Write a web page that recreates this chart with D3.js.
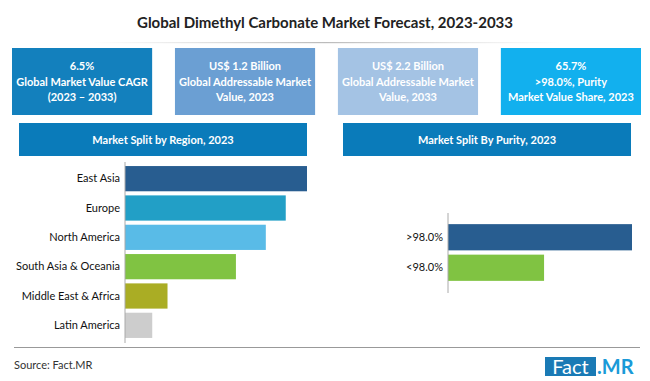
<!DOCTYPE html>
<html lang="en">
<head>
<meta charset="UTF-8">
<title>Dimethyl Carbonate Market</title>
<script src="https://d3js.org/d3.v7.min.js"></script>
<style>
  body { margin: 0; background: #fff; }
  text { font-family: Lato, "Noto Sans", sans-serif; }
</style>
</head>
<body>
<div id="figure" style="width:650px;height:381px"></div>
<script>
// KPI cards across the top
const kpiLines = [
    ["6.5%", "Global Market Value CAGR", "(2023 \u2013 2033)"],
    ["US$ 1.2 Billion", "Global Addressable Market", "Value, 2023"],
    ["US$ 2.2 Billion", "Global Addressable Market", "Value, 2033"],
    ["65.7%", ">98.0%, Purity", "Market Value Share, 2023"]
];
const kpiColors = ["#1380bd", "#6b9fd3", "#a4c3e4", "#12b0ee"];

// region split (share %)
const regions = ["East Asia", "Europe", "North America", "South Asia & Oceania", "Middle East & Africa", "Latin America"];
const regionShare = [27.4, 24.2, 21.2, 16.7, 6.4, 4.1];
const regionColors = ["#285d90", "#229fc6", "#59bbe7", "#80c342", "#aaad24", "#cdcdcd"];

// purity split
const purity = [">98.0%", "<98.0%"];
const purityShare = [65.7, 34.3];
const purityColors = ["#285d90", "#80c342"];

const W = 650, H = 381;
const svg = d3.select("#figure").append("svg")
    .attr("width", W).attr("height", H);

svg.append("text")
    .attr("x", 325).attr("y", 28)
    .attr("text-anchor", "middle")
    .attr("font-size", 15).attr("font-weight", "bold")
    .attr("fill", "#222")
    .text("Global Dimethyl Carbonate Market Forecast, 2023-2033");

const grad = svg.append("defs").append("linearGradient").attr("id", "fade");
grad.append("stop").attr("offset", "0%").attr("stop-color", "#ccc").attr("stop-opacity", 0);
grad.append("stop").attr("offset", "50%").attr("stop-color", "#bbb");
grad.append("stop").attr("offset", "100%").attr("stop-color", "#ccc").attr("stop-opacity", 0);
svg.append("rect").attr("x", 90).attr("y", 42).attr("width", 470).attr("height", 1.2)
    .attr("fill", "url(#fade)");

// cards
const cardX = d3.scaleBand().domain(d3.range(4)).range([12, 641]).paddingInner(0.14);
const cards = svg.selectAll("g.card").data(kpiLines).join("g")
    .attr("class", "card")
    .attr("transform", (d, i) => `translate(${cardX(i)},48)`);
cards.append("rect")
    .attr("width", cardX.bandwidth()).attr("height", 67)
    .attr("fill", (d, i) => kpiColors[i]);
cards.each(function(d) {
    const g = d3.select(this);
    d.forEach((line, k) => {
        g.append("text")
            .attr("x", cardX.bandwidth() / 2).attr("y", 22 + k * 15.5)
            .attr("text-anchor", "middle")
            .attr("font-size", 11).attr("font-weight", "bold")
            .attr("fill", "#fff")
            .text(line);
    });
});

// section headers
function header(x, label) {
    svg.append("rect").attr("x", x).attr("y", 123).attr("width", 288).attr("height", 33)
        .attr("fill", "#0a7bba");
    svg.append("text").attr("x", x + 144).attr("y", 143.5)
        .attr("text-anchor", "middle")
        .attr("font-size", 11).attr("font-weight", "bold").attr("fill", "#fff")
        .text(label);
}
header(19, "Market Split by Region, 2023");
header(343, "Market Split By Purity, 2023");

// region bars
const rx = d3.scaleLinear().domain([0, d3.max(regionShare)]).range([125, 307]);
const ry = d3.scaleBand().domain(regions).range([164, 340]).paddingInner(0.14).paddingOuter(0.07);
svg.selectAll("rect.rbar").data(regions).join("rect")
    .attr("class", "rbar")
    .attr("x", rx(0)).attr("y", d => ry(d))
    .attr("width", (d, i) => rx(regionShare[i]) - rx(0))
    .attr("height", ry.bandwidth())
    .attr("fill", (d, i) => regionColors[i]);
svg.append("g").attr("transform", `translate(${rx(0)},0)`)
    .call(d3.axisLeft(ry).tickSize(0).tickPadding(5))
    .call(g => g.select(".domain").attr("stroke", "#aaa").attr("d", "M0,162V343"))
    .call(g => g.selectAll("text").attr("font-size", 11).attr("fill", "#111")
        .attr("font-family", "Lato, sans-serif"));

// purity bars
const px = d3.scaleLinear().domain([0, d3.max(purityShare)]).range([448, 632]);
const py = d3.scaleBand().domain(purity).range([222, 283]).paddingInner(0.14).paddingOuter(0.07);
svg.selectAll("rect.pbar").data(purity).join("rect")
    .attr("class", "pbar")
    .attr("x", px(0)).attr("y", d => py(d))
    .attr("width", (d, i) => px(purityShare[i]) - px(0))
    .attr("height", py.bandwidth())
    .attr("fill", (d, i) => purityColors[i]);
svg.append("g").attr("transform", `translate(${px(0)},0)`)
    .call(d3.axisLeft(py).tickSize(0).tickPadding(5))
    .call(g => g.select(".domain").attr("stroke", "#aaa").attr("d", "M0,213V293"))
    .call(g => g.selectAll("text").attr("font-size", 11).attr("fill", "#111")
        .attr("font-family", "Lato, sans-serif"));

// bottom rule + footer
svg.append("line").attr("x1", 14).attr("x2", 640).attr("y1", 347.5).attr("y2", 347.5)
    .attr("stroke", "#999").attr("stroke-width", 1);
svg.append("text").attr("x", 14).attr("y", 369)
    .attr("font-size", 11).attr("fill", "#333")
    .text("Source: Fact.MR");

svg.append("rect").attr("x", 545).attr("y", 357).attr("width", 51).attr("height", 19)
    .attr("fill", "#1a7ab5");
svg.append("text").attr("x", 570.5).attr("y", 374)
    .attr("text-anchor", "middle")
    .attr("font-size", 20).attr("fill", "#fff")
    .text("Fact");
svg.append("text").attr("x", 597).attr("y", 374)
    .attr("font-size", 20).attr("font-weight", "bold").attr("fill", "#1a9ad8")
    .text(".MR");
</script>
</body>
</html>
